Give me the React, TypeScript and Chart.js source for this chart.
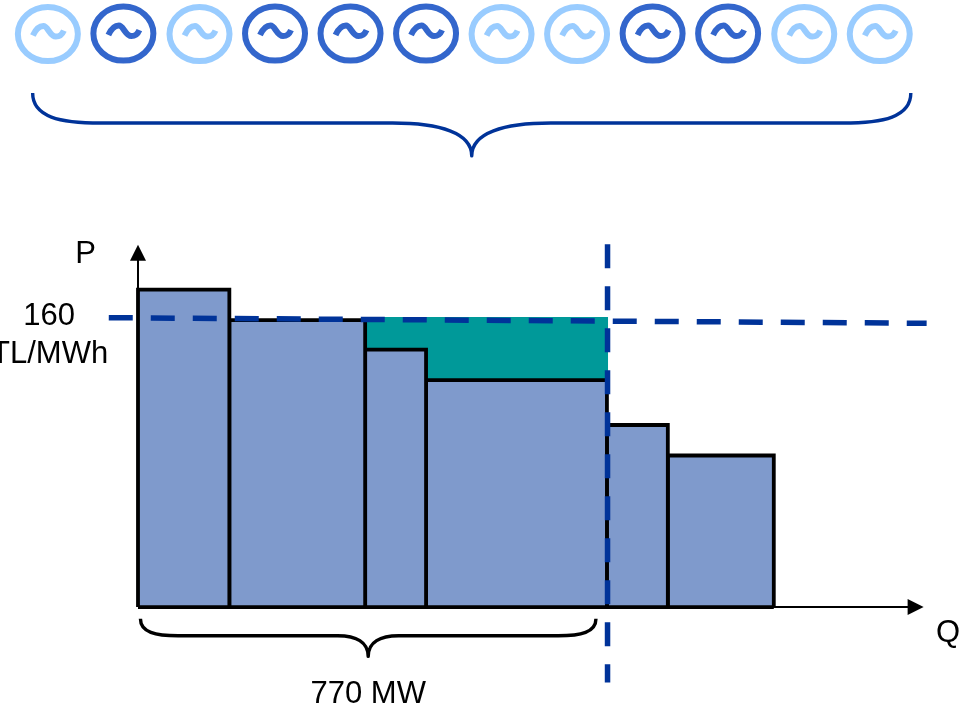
import React, { useEffect, useRef } from "react";
import { Chart, registerables } from "chart.js";

Chart.register(...registerables);

// Supply blocks: capacity (MW) and offer price (TL/MWh)
const blockWidths = [150, 223, 100, 297, 100, 174];
const blockPrices = [177, 160, 143.5, 126.5, 101.5, 84.5];

const marketPrice = [161.3, 158.2];
const marketPriceQ = [-48, 1295];
const clearedQ = 771;
const clearedRange = [202.3, -42];
const rentQ = [373, 772];
const rentPrice = 161.7;

const generatorQ = [-148, -24, 101, 225, 349, 473, 597, 721, 845, 969, 1094, 1218];
const generatorOn = [false, true, false, true, true, true, false, false, true, true, false, false];
const generatorPrice = 319.4;

const axisQEnd = 1290;
const axisPEnd = 202;

const textLabels = [
  { text: "P", q: -86, p: 191.8, align: "center" },
  { text: "160", q: -146, p: 157.2, align: "center" },
  { text: "TL/MWh", q: -49, p: 136.2, align: "right" },
  { text: "Q", q: 1330, p: -19.4, align: "center" },
  { text: "770 MW", q: 378, p: -53.5, align: "center" },
];

// q0, q1, cornerQ, cuspQ, pEnd, pMid, pTip, colour
const braces = [
  { q0: -173, q1: 1269, corner: 112, cusp: 130, pEnd: 286.5, pMid: 269.8, pTip: 251.5, color: "#003399" },
  { q0: 4, q1: 752, corner: 62, cusp: 50, pEnd: -6.5, pMid: -16, pTip: -27.5, color: "#000000" },
];

const BLOCK_FILL = "#7F9ACC";
const RENT_FILL = "#009999";
const DASH = "#003399";

const blockEdges = blockWidths.reduce<number[]>((acc, w) => [...acc, acc[acc.length - 1] + w], [0]);

const annotations = {
  id: "annotations",
  afterDatasetsDraw(chart: any) {
    const { ctx, scales } = chart;
    const X = scales.x;
    const Y = scales.y;
    ctx.save();

    // axis arrow heads
    ctx.fillStyle = "#000";
    const ax = X.getPixelForValue(0);
    const ay = Y.getPixelForValue(axisPEnd);
    ctx.beginPath();
    ctx.moveTo(ax, ay);
    ctx.lineTo(ax - 8, ay + 16);
    ctx.lineTo(ax + 8, ay + 16);
    ctx.closePath();
    ctx.fill();
    const bx = X.getPixelForValue(axisQEnd);
    const by = Y.getPixelForValue(0);
    ctx.beginPath();
    ctx.moveTo(bx, by);
    ctx.lineTo(bx - 16, by - 8);
    ctx.lineTo(bx - 16, by + 8);
    ctx.closePath();
    ctx.fill();

    // braces
    ctx.lineCap = "butt";
    ctx.lineJoin = "round";
    ctx.lineWidth = 3.4;
    for (const b of braces) {
      const x0 = X.getPixelForValue(b.q0);
      const x1 = X.getPixelForValue(b.q1);
      const w = X.getPixelForValue(b.q0 + b.corner) - x0;
      const c = X.getPixelForValue(b.q0 + b.cusp) - x0;
      const ye = Y.getPixelForValue(b.pEnd);
      const ym = Y.getPixelForValue(b.pMid);
      const yt = Y.getPixelForValue(b.pTip);
      const xm = (x0 + x1) / 2;
      const h = ym - ye;
      const t = yt - ym;
      ctx.strokeStyle = b.color;
      ctx.beginPath();
      ctx.moveTo(x0, ye);
      ctx.bezierCurveTo(x0, ye + h * 0.8, x0 + w * 0.4, ym, x0 + w, ym);
      ctx.lineTo(xm - c, ym);
      ctx.bezierCurveTo(xm - c * 0.4, ym, xm, ym + t * 0.3, xm, yt);
      ctx.bezierCurveTo(xm, ym + t * 0.3, xm + c * 0.4, ym, xm + c, ym);
      ctx.lineTo(x1 - w, ym);
      ctx.bezierCurveTo(x1 - w * 0.4, ym, x1, ye + h * 0.8, x1, ye);
      ctx.stroke();
    }

    // generator symbols
    generatorQ.forEach((q, i) => {
      const cx = X.getPixelForValue(q);
      const cy = Y.getPixelForValue(generatorPrice) + (generatorOn[i] ? -0.5 : 0);
      ctx.strokeStyle = generatorOn[i] ? "#3366CC" : "#99CCFF";
      ctx.lineWidth = 6;
      ctx.beginPath();
      ctx.ellipse(cx, cy, 30, 27, 0, 0, Math.PI * 2);
      ctx.stroke();
      ctx.lineWidth = 6;
      ctx.lineJoin = "round";
      ctx.beginPath();
      ctx.moveTo(cx - 15, cy + 1.5);
      ctx.bezierCurveTo(cx - 12, cy - 5, cx - 8, cy - 8, cx - 4.5, cy - 8);
      ctx.bezierCurveTo(cx + 0, cy - 8, cx + 2, cy + 2.5, cx + 8, cy + 2.5);
      ctx.bezierCurveTo(cx + 12, cy + 2.5, cx + 14.5, cy, cx + 16, cy - 3.5);
      ctx.stroke();
    });

    // text
    ctx.fillStyle = "#000";
    ctx.font = '31px "Liberation Sans", Arial, sans-serif';
    ctx.textBaseline = "alphabetic";
    for (const l of textLabels) {
      ctx.textAlign = l.align;
      ctx.fillText(l.text, X.getPixelForValue(l.q), Y.getPixelForValue(l.p));
    }
    ctx.restore();
  },
};

const base = {
  pointRadius: 0,
  pointHoverRadius: 0,
  tension: 0,
  clip: false,
  borderCapStyle: "butt",
  borderJoinStyle: "miter",
};

export default function App() {
  const ref = useRef<HTMLCanvasElement | null>(null);

  useEffect(() => {
    if (!ref.current) return;
    const blockSets = blockWidths.map((_, i) => ({
      ...base,
      label: `Block ${i + 1}`,
      order: 5,
      data: [
        { x: blockEdges[i], y: 0 },
        { x: blockEdges[i], y: blockPrices[i] },
        { x: blockEdges[i + 1], y: blockPrices[i] },
        { x: blockEdges[i + 1], y: 0 },
      ],
      borderColor: "#000",
      borderWidth: 3.8,
      backgroundColor: BLOCK_FILL,
      fill: "origin",
    }));
    const chart = new Chart(ref.current, {
      type: "line",
      data: {
        datasets: [
          {
            ...base,
            label: "Market price",
            order: 0,
            data: marketPriceQ.map((x, i) => ({ x, y: marketPrice[i] })),
            borderColor: DASH,
            borderWidth: 5.5,
            borderDash: [24, 18],
            fill: false,
          },
          {
            ...base,
            label: "Cleared quantity",
            order: 1,
            data: clearedRange.map((y) => ({ x: clearedQ, y })),
            borderColor: DASH,
            borderWidth: 5.5,
            borderDash: [24, 18],
            fill: false,
          },
          {
            ...base,
            label: "Block baseline",
            order: 4,
            data: [{ x: blockEdges[0], y: 0 }, { x: blockEdges[blockEdges.length - 1], y: 0 }],
            borderColor: "#000",
            borderWidth: 3.8,
            fill: false,
          },
          ...blockSets,
          {
            ...base,
            label: "Rent",
            order: 8,
            data: rentQ.map((x) => ({ x, y: rentPrice })),
            borderWidth: 0,
            borderColor: RENT_FILL,
            backgroundColor: RENT_FILL,
            fill: "origin",
          },
          {
            ...base,
            label: "Q axis",
            order: 9,
            data: [{ x: 0, y: 0 }, { x: axisQEnd - 20, y: 0 }],
            borderColor: "#000",
            borderWidth: 2,
            fill: false,
          },
          {
            ...base,
            label: "P axis",
            order: 9,
            data: [{ x: 0, y: 0 }, { x: 0, y: axisPEnd - 5 }],
            borderColor: "#000",
            borderWidth: 2,
            fill: false,
          },
        ],
      },
      options: {
        animation: false,
        responsive: false,
        parsing: false,
        layout: { padding: 0 },
        events: [],
        plugins: { legend: { display: false }, tooltip: { enabled: false } },
        scales: {
          x: { type: "linear", display: false, min: -226.6, max: 1362.9 },
          y: { type: "linear", display: false, min: -55.7, max: 338.4 },
        },
      },
      plugins: [annotations],
    } as any);
    return () => chart.destroy();
  }, []);

  return (
    <div style={{ position: "fixed", left: 0, top: 0, width: 968, height: 707, background: "#fff" }}>
      <canvas ref={ref} width={968} height={707} style={{ display: "block" }} />
    </div>
  );
}
